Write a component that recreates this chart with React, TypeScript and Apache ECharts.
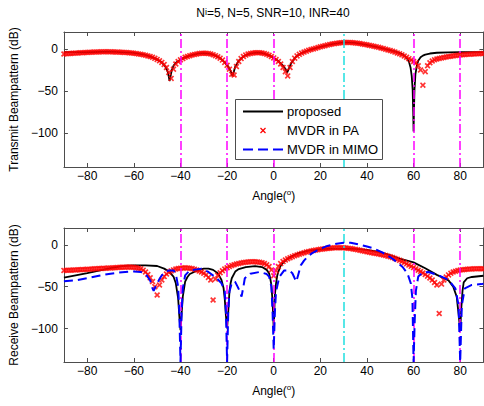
import React, { useEffect, useRef } from "react";
import * as echarts from "echarts";

// ---------- data ----------
const tickAngles = [-80, -60, -40, -20, 0, 20, 40, 60, 80];
const tickDb = [-100, -50, 0];
const interfAngles = [-40, -20, 0, 60, 80];
const targetAngles = [30];
const titleRest = "=5, N=5, SNR=10, INR=40";
const legendNames = ["proposed", "MVDR in PA", "MVDR in MIMO"];

// MVDR in PA sampled every degree from -90 to 90
const paAngles = Array.from({ length: 181 }, (_, i) => i - 90);

const txPaDb = [
  -6.0, -5.8, -5.6, -5.4, -5.2, -5.0, -4.8, -4.6, -4.5, -4.3,
  -4.2, -4.0, -3.9, -3.8, -3.7, -3.6, -3.5, -3.5, -3.5, -3.5,
  -3.5, -3.6, -3.7, -3.8, -3.9, -4.0, -4.2, -4.4, -4.6, -4.9,
  -5.2, -5.6, -6.0, -6.5, -7.0, -7.6, -8.3, -9.1, -10, -11.2,
  -12.5, -14, -16, -18.5, -22, -28, -35, -24, -18, -15,
  -13, -11.5, -10, -9, -8, -7.3, -6.6, -6, -5.6, -5.3,
  -5.2, -5.3, -5.6, -6.1, -6.9, -8, -9.3, -11, -13.3, -16,
  -19.5, -24, -30, -31, -21, -15, -11.5, -9, -7.4, -6.2,
  -5.4, -4.9, -4.6, -4.5, -4.6, -4.9, -5.5, -6.4, -7.6, -9,
  -10.7, -12.7, -15, -18, -22, -27, -32, -22, -15, -11,
  -8.3, -6.5, -5, -3.8, -2.7, -1.7, -0.8, 0, 0.8, 1.6,
  2.4, 3.1, 3.8, 4.5, 5.1, 5.7, 6.2, 6.7, 7.1, 7.4,
  7.6, 7.7, 7.7, 7.6, 7.4, 7.1, 6.7, 6.3, 5.8, 5.3,
  4.8, 4.2, 3.6, 3, 2.4, 1.8, 1.1, 0.4, -0.4, -1.2,
  -2, -2.9, -3.8, -4.8, -5.9, -7.1, -8.5, -10, -11.6, -13.2,
  -15, -16.5, -20, -25, -43, -27, -20, -16.5, -14.3, -13,
  -12, -11.3, -10.7, -10.1, -9.6, -9.1, -8.7, -8.3, -7.9, -7.6,
  -7.3, -7, -6.8, -6.5, -6.3, -6.1, -6, -5.8, -5.7, -5.6,
  -5.5,
];

const rxPaDb = [
  -30.6, -30.5, -30.4, -30.3, -30.2, -30.0, -29.9, -29.8, -29.6, -29.5,
  -29.4, -29.2, -29.0, -28.8, -28.6, -28.4, -28.3, -28.1, -28.0, -27.9,
  -27.8, -27.6, -27.4, -27.2, -27.0, -26.9, -26.8, -26.7, -26.7, -26.8,
  -27.0, -27.4, -28.0, -28.8, -30.3, -32.5, -35.5, -39.5, -44, -50,
  -60, -48, -42, -38, -35, -32.8, -31.2, -30, -29, -28.4,
  -28, -27.7, -27.6, -27.7, -28, -28.5, -29.2, -30.1, -31.2, -32.5,
  -34, -36, -39, -42, -66, -41, -36.5, -33.5, -31, -29,
  -27.4, -26, -24.8, -23.8, -23, -22.3, -21.7, -21.2, -20.8, -20.5,
  -20.3, -20.2, -20.3, -20.5, -20.9, -21.5, -22.4, -23.8, -26, -30,
  -37, -31, -26, -22.5, -20, -18.2, -16.8, -15.5, -14.3, -13.2,
  -12.2, -11.2, -10.3, -9.5, -8.8, -8.1, -7.5, -6.9, -6.4, -5.9,
  -5.5, -5.1, -4.7, -4.4, -4.1, -3.9, -3.7, -3.6, -3.6, -3.6,
  -3.7, -3.9, -4.2, -4.6, -5.0, -5.5, -6.1, -6.7, -7.3, -7.9,
  -8.5, -9.0, -9.5, -10, -10.5, -11, -11.6, -12.2, -12.9, -13.6,
  -14.4, -15.3, -16.3, -17.4, -18.6, -19.9, -21.3, -22.8, -24.3, -25.8,
  -27.3, -28.8, -30.4, -32, -33.7, -35.5, -37.5, -39.7, -42, -45,
  -48, -82, -47, -42, -38.5, -36, -34, -32.6, -31.6, -30.8,
  -30.2, -29.8, -29.5, -29.2, -29, -28.9, -28.8, -28.7, -28.6, -28.6,
  -28.6,
];

// proposed, transmit
const txPropAngles = [
  -90, -80, -70, -60, -55, -52, -50, -48, -46.5, -45.5, -45, -44.7, -44.3, -43.8, -43, -42,
  -40, -38, -36, -32, -30, -27, -25, -23, -21, -19.5, -18.5, -17.7, -17.2, -16.5, -15, -13,
  -12, -10, -7, -5, -2, 0, 2, 4, 5, 5.8, 6.4, 7.5, 9, 10, 12, 15, 20, 25, 30, 35, 40, 45,
  50, 52, 54, 55, 56, 57, 58, 58.7, 59.2, 59.6, 59.85, 60, 60.15, 60.4, 60.8, 61.4, 62, 63,
  64, 65, 67, 70, 75, 80, 85, 90,
];
const txPropDb = [
  -4, -4, -3.2, -4.8, -7, -10, -12.5, -16, -21, -27, -33, -38, -33, -26, -20, -16.5,
  -12.8, -10, -8, -5.4, -5, -6, -8, -11, -16, -21, -26, -32, -28, -21, -14, -9,
  -7.6, -5.4, -4.5, -4.9, -7.6, -10.7, -14.5, -20, -23.5, -28, -24, -17, -11, -8.3, -5, -1.5, 2.4, 5.7, 7.6, 7.1, 4.8, 1.8,
  -1.5, -3, -5, -6.2, -8, -10.5, -15, -22, -32, -48, -75, -98, -75, -48, -30, -20, -14, -10,
  -8, -6.8, -5.5, -4.6, -4.1, -4, -4, -4,
];

// proposed, receive
const rxPropAngles = [
  -90, -85, -80, -75, -70, -65, -60, -55, -50, -47, -45, -43, -42, -41, -40.5, -40, -39.5, -39,
  -38, -37, -36, -33, -30, -28, -26, -24, -22.4, -21.5, -21, -20.5, -20, -19.5, -19, -18.5, -18,
  -16.5, -15, -12, -8, -5, -3, -2, -1.5, -1, -0.5, 0, 0.5, 1, 1.5, 2, 3, 4.5, 6, 8, 10, 15, 20,
  25, 30, 35, 40, 45, 50, 54, 60, 65, 70, 73, 75, 77, 78.5, 79.5, 80, 80.5, 81, 81.5, 83, 85, 90,
];
const rxPropDb = [
  -39.3, -36.5, -33.8, -31, -27.8, -25.4, -24.6, -24.6, -25.4, -28.5, -31.8, -38, -46, -64, -85, -102, -82, -62,
  -44, -38.5, -35, -31, -28.6, -28.5, -30, -34, -42, -52, -65, -85, -100, -80, -56, -46, -40,
  -32, -29, -26.6, -25.4, -26.6, -30, -34, -40, -48, -68, -100, -60, -46, -37, -32, -25, -20, -16.7, -13.5, -10.7, -7, -5.5,
  -4.8, -4.8, -5, -6, -8.5, -12.5, -16.7, -21, -28, -36, -40, -42.5, -50, -62, -88, -103, -75, -55, -45, -40, -38.5, -37,
];

// MVDR in MIMO, receive
const rxMimoAngles = [
  -90, -85, -80, -75, -70, -65, -60, -57, -55, -53, -52, -51.5, -51, -50, -49, -48, -46, -45, -43,
  -42, -41, -40.5, -40, -39.5, -39, -38, -36, -33, -31, -28, -24.5, -22.4, -21, -20.5, -20, -19.5,
  -19, -18, -16.6, -15.5, -14.5, -13.8, -13, -12.4, -10, -6, -3, -2, -1, -0.5, 0, 0.5, 1, 2.4, 4.5,
  6.6, 8, 9, 9.7, 10.5, 11.6, 13, 14.4, 16.5, 18.7, 21, 23, 27, 30, 33, 37, 40, 42.6, 46.8, 51,
  55.3, 57.4, 58.8, 59.5, 60, 60.5, 61, 62, 64, 66.4, 70.8, 75, 77.9, 79.3, 80, 80.7, 82, 85, 89, 90,
];
const rxMimoDb = [
  -43.7, -42.5, -40, -37, -34.5, -32.8, -31.8, -32.5, -34.5, -42.5, -52, -55, -52, -46, -41, -36.5, -32, -30.6, -30.6,
  -34.5, -50, -80, -140, -80, -52, -36.5, -30.6, -29.4, -28.6, -32.5, -40, -46, -56, -80, -140, -80,
  -56, -46, -44, -50, -56, -62, -50, -40, -34.5, -32.5, -35, -38, -50, -80, -125, -80, -56, -38.5, -30.6,
  -30.6, -34, -40, -44, -36, -24.6, -19, -14.7, -10, -6.8, -3.8, -1.4, 1.3, 2.5, 2.5, 0, -2, -4, -9.5, -16.7,
  -26.6, -34.5, -46, -64, -140, -90, -55, -38, -33, -32.5, -36.5, -42, -52, -72, -140, -72, -52, -48, -47, -46.5,
];

// ---------- styles ----------
const FONT = '"Liberation Sans", Arial, Helvetica, sans-serif';
const AXIS = "#4d4d4d";
const MAGENTA = "#ff00ff";
const CYAN = "#1fe0e0";
const DASHDOT = [9, 3, 2, 3];
const XSYM = "path://M0,2L2,0L5,3L8,0L10,2L7,5L10,8L8,10L5,7L2,10L0,8L3,5Z";
const GRID_LEFT = 61;
const GRID_W = 422.5;

const pairs = (xs: number[], ys: number[]) => xs.map((x, i) => [x, ys[i]]);
const minus = (v: number) => String(v).replace("-", "\u2212");

function xAxesFor(gridIndex: number) {
  const base = {
    gridIndex,
    type: "value",
    min: -90,
    max: 90,
    splitLine: { show: false },
    axisLine: { show: true, onZero: false, lineStyle: { color: AXIS, width: 1 } },
    axisTick: { show: true, inside: true, length: 4, customValues: tickAngles, lineStyle: { color: AXIS } },
  };
  return [
    {
      ...base,
      position: "bottom",
      axisLabel: {
        show: true,
        customValues: tickAngles,
        formatter: minus,
        color: "#000",
        fontSize: 12,
        fontFamily: FONT,
        margin: 3,
      },
      name: "{a|Angle(}{o|o}{a|)}",
      nameLocation: "middle",
      nameGap: 21,
      nameTextStyle: {
        rich: {
          a: { fontSize: 12, lineHeight: 14, verticalAlign: "bottom", fontFamily: FONT, color: "#000" },
          o: { fontSize: 8, lineHeight: 8, verticalAlign: "top", fontFamily: FONT, color: "#000" },
        },
      },
    },
    { ...base, position: "top", axisLabel: { show: false } },
  ];
}

function yAxesFor(gridIndex: number, name: string) {
  const base = {
    gridIndex,
    type: "value",
    min: -140,
    max: 20,
    splitLine: { show: false },
    axisLine: { show: true, onZero: false, lineStyle: { color: AXIS, width: 1 } },
    axisTick: { show: true, inside: true, length: 4, customValues: tickDb, lineStyle: { color: AXIS } },
  };
  return [
    {
      ...base,
      position: "left",
      axisLabel: {
        show: true,
        customValues: tickDb,
        formatter: minus,
        color: "#000",
        fontSize: 12,
        fontFamily: FONT,
        margin: 6,
      },
      name,
      nameLocation: "middle",
      nameGap: 40,
      nameTextStyle: { fontSize: 12, fontFamily: FONT, color: "#000" },
    },
    { ...base, position: "right", axisLabel: { show: false } },
  ];
}

function vLines(xAxisIndex: number, yAxisIndex: number) {
  return {
    type: "line",
    xAxisIndex,
    yAxisIndex,
    data: [],
    z: 6,
    silent: true,
    markLine: {
      silent: true,
      symbol: "none",
      animation: false,
      label: { show: false },
      data: [
        ...interfAngles.map((a) => ({ xAxis: a, lineStyle: { color: MAGENTA, type: DASHDOT, width: 1.5 } })),
        ...targetAngles.map((a) => ({ xAxis: a, lineStyle: { color: CYAN, type: DASHDOT, width: 1.5 } })),
      ],
    },
  };
}

function lineSeries(name: string, xi: number, yi: number, data: number[][], color: string, type: any, width: number) {
  return {
    name,
    type: "line",
    xAxisIndex: xi,
    yAxisIndex: yi,
    data,
    showSymbol: false,
    symbol: "none",
    clip: true,
    lineStyle: { color, width, type },
    z: 3,
  };
}

function paSeries(name: string, xi: number, yi: number, data: number[][]) {
  return {
    name,
    type: "scatter",
    xAxisIndex: xi,
    yAxisIndex: yi,
    data,
    symbol: XSYM,
    symbolSize: 6,
    clip: true,
    itemStyle: { color: "#ff0000" },
    z: 4,
  };
}

// legend drawn as a boxed key
const LX = 235.5;
const LY = 99.5;
function legendGraphics() {
  const rows = [111.5, 130.5, 149.5];
  const txt = (t: string, y: number) => ({
    type: "text",
    x: 287,
    y,
    z: 101,
    style: { text: t, fill: "#000", fontSize: 13, fontFamily: FONT, verticalAlign: "middle", align: "left" },
  });
  return [
    {
      type: "rect",
      z: 100,
      shape: { x: LX, y: LY, width: 147, height: 60 },
      style: { fill: "#ffffff", stroke: AXIS, lineWidth: 1 },
    },
    { type: "line", z: 101, shape: { x1: 243, y1: rows[0], x2: 283, y2: rows[0] }, style: { stroke: "#000", lineWidth: 2 } },
    txt(legendNames[0], rows[0]),
    { type: "line", z: 101, shape: { x1: 260.5, y1: rows[1] - 2.5, x2: 265.5, y2: rows[1] + 2.5 }, style: { stroke: "#ff0000", lineWidth: 1.2 } },
    { type: "line", z: 101, shape: { x1: 260.5, y1: rows[1] + 2.5, x2: 265.5, y2: rows[1] - 2.5 }, style: { stroke: "#ff0000", lineWidth: 1.2 } },
    txt(legendNames[1], rows[1]),
    { type: "line", z: 101, shape: { x1: 243, y1: rows[2], x2: 283, y2: rows[2] }, style: { stroke: "#0000ff", lineWidth: 2, lineDash: [10, 5] } },
    txt(legendNames[2], rows[2]),
  ];
}

export default function App() {
  const ref = useRef<HTMLDivElement>(null);
  useEffect(() => {
    if (!ref.current) return;
    const chart = echarts.init(ref.current, null, { renderer: "svg" });
    const option: any = {
      animation: false,
      backgroundColor: "#ffffff",
      textStyle: { fontFamily: FONT },
      title: {
        text: "{n|N}{s|i}{n|" + titleRest + "}",
        left: 273,
        top: 7,
        padding: 0,
        textAlign: "center",
        textStyle: {
          fontWeight: "normal",
          fontSize: 12,
          rich: {
            n: { fontSize: 12, fontWeight: "normal", lineHeight: 14, verticalAlign: "top", fontFamily: FONT, color: "#000" },
            s: { fontSize: 9, fontWeight: "normal", lineHeight: 25, verticalAlign: "top", fontFamily: FONT, color: "#000" },
          },
        },
      },
      grid: [
        { left: GRID_LEFT, top: 32, width: GRID_W, height: 135, show: false },
        { left: GRID_LEFT, top: 228, width: GRID_W, height: 134, show: false },
      ],
      xAxis: [...xAxesFor(0), ...xAxesFor(1)],
      yAxis: [...yAxesFor(0, "Transmit Beampattern (dB)"), ...yAxesFor(1, "Receive Beampattern (dB)")],
      series: [
        lineSeries(legendNames[0], 0, 0, pairs(txPropAngles, txPropDb), "#000000", "solid", 1.8),
        paSeries(legendNames[1], 0, 0, pairs(paAngles, txPaDb)),
        vLines(0, 0),
        lineSeries(legendNames[0], 2, 2, pairs(rxPropAngles, rxPropDb), "#000000", "solid", 1.8),
        paSeries(legendNames[1], 2, 2, pairs(paAngles, rxPaDb)),
        { ...lineSeries(legendNames[2], 2, 2, pairs(rxMimoAngles, rxMimoDb), "#0000ff", [9, 5], 2), z: 5 },
        vLines(2, 2),
      ],
      graphic: legendGraphics(),
    };
    chart.setOption(option);
    return () => chart.dispose();
  }, []);
  return (
    <div
      ref={ref}
      style={{ position: "absolute", left: 0, top: 0, width: 484, height: 406, background: "#fff" }}
    />
  );
}
